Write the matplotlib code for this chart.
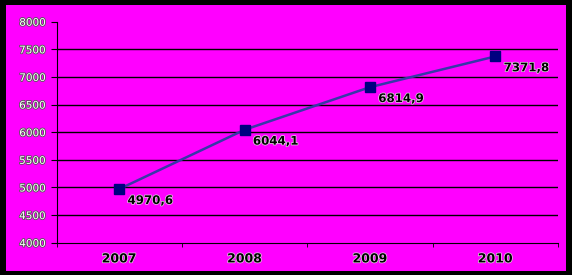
import matplotlib
matplotlib.use('Agg')
import matplotlib.pyplot as plt
import matplotlib.patheffects as pe
from matplotlib.patches import Rectangle

years = ['2007', '2008', '2009', '2010']
values = [4970.6, 6044.1, 6814.9, 7371.8]
value_labels = ['4970,6', '6044,1', '6814,9', '7371,8']
y_ticks = [4000, 4500, 5000, 5500, 6000, 6500, 7000, 7500, 8000]

fig = plt.figure(figsize=(5.72, 2.75), dpi=100)
fig.patch.set_facecolor('black')
# magenta chart area inside the black frame
fig.patches.append(Rectangle((6 / 572, 4.3 / 275), 560 / 572, 265.7 / 275,
                             transform=fig.transFigure, facecolor='#ff00ff',
                             edgecolor='none', zorder=-5))

ax = fig.add_axes([56.5 / 572, 32.3 / 275, 501.5 / 572, 221 / 275])
ax.set_zorder(2)
ax.set_facecolor('none')

x = list(range(len(years)))
ax.plot(x, values, color='#3838a8', lw=1.8, zorder=3)
ax.plot(x, values, ls='none', marker='s', ms=7.5, color='#000080',
        mec='#000080', zorder=4)

for xi, v, lab in zip(x, values, value_labels):
    ax.annotate(lab, (xi, v), xytext=(6, -3.5), textcoords='offset points',
                ha='left', va='top', fontsize=8.5, fontweight='bold',
                color='black', family='DejaVu Sans',
                path_effects=[pe.withStroke(linewidth=1, foreground='#dddddd')])

ax.set_xlim(-0.5, 3.5)
ax.set_ylim(4000, 8000)
ax.set_yticks(y_ticks)
ax.set_yticklabels([str(t) for t in y_ticks])
for t in y_ticks[1:-1]:
    ax.axhline(t, color='black', lw=1, zorder=1)

ax.set_xticks(x)
ax.set_xticklabels(years)
ax.set_xticks([-0.5, 0.5, 1.5, 2.5, 3.5], minor=True)
ax.tick_params(axis='x', which='major', length=0, pad=7)
ax.tick_params(axis='x', which='minor', length=3, direction='out', color='black')
ax.tick_params(axis='y', length=4, direction='out', color='black', pad=4)

for lab in ax.get_xticklabels():
    lab.set_fontsize(9)
    lab.set_fontweight('bold')
    lab.set_color('black')
    lab.set_path_effects([pe.withStroke(linewidth=1, foreground='#dddddd')])
for lab in ax.get_yticklabels():
    lab.set_fontsize(7.5)
    lab.set_color('white')
    lab.set_path_effects([pe.withStroke(linewidth=1.2, foreground='#555555')])

for s in ['top', 'right']:
    ax.spines[s].set_visible(False)
ax.spines['left'].set_color('black')
ax.spines['bottom'].set_color('black')

fig.savefig('out.png', dpi=100, facecolor=fig.get_facecolor())
